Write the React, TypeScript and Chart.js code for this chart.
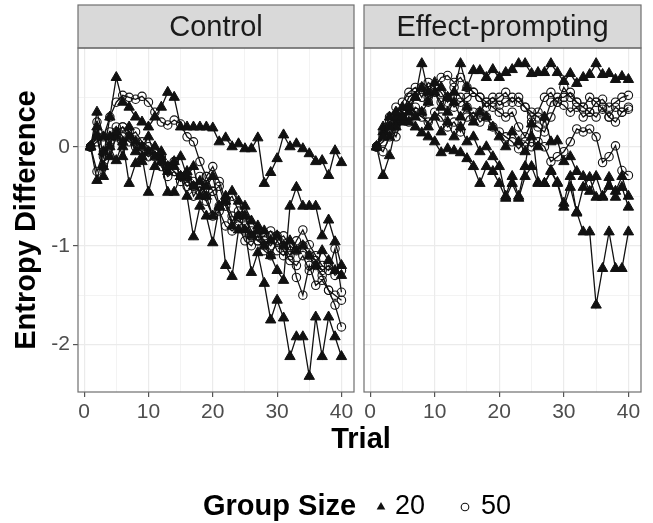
import React, { useEffect, useRef } from 'react';
import { Chart, registerables } from 'chart.js';

Chart.register(...registerables);

const FONT = "'Liberation Sans', Arial, Helvetica, sans-serif";

// ---------------- data ----------------
const panels = ['Control', 'Effect-prompting'];
const groupSizes = ['20', '50'];
const trials = [1, 2, 3, 4, 5, 6, 7, 8, 9, 10, 11, 12, 13, 14, 15, 16, 17, 18, 19, 20,
  21, 22, 23, 24, 25, 26, 27, 28, 29, 30, 31, 32, 33, 34, 35, 36, 37, 38, 39, 40];
const xTickValues = [0, 5, 10, 15, 20, 25, 30, 35, 40];
const yTickValues = [-2, -1.5, -1, -0.5, 0, 0.5];

// Control, group size 20 (triangles)
const controlG20a = [0, 0.35, 0.1, 0.3, 0.7, 0.45, 0.4, 0.3, 0.25, 0.2, 0.3, 0.4, 0.55, 0.5, 0.2, 0.2, 0.2, 0.2, 0.2, 0.19, 0.05, 0.09, 0.0, 0.03, -0.02, -0.02, 0.09, -0.37, -0.26, -0.12, 0.12, 0, 0.03, -0.02, -0.07, -0.15, -0.14, -0.29, -0.04, -0.16];
const controlG20b = [0, -0.34, -0.05, 0.0, -0.14, 0.05, -0.37, -0.17, -0.1, -0.46, -0.2, -0.15, -0.46, -0.46, -0.3, -0.5, -0.91, -0.6, -0.7, -0.97, -0.61, -1.2, -1.31, -0.84, -0.84, -1.27, -1.07, -1.38, -1.75, -1.55, -1.73, -2.12, -1.92, -1.92, -2.32, -1.72, -2.12, -1.72, -1.92, -2.12];
const controlG20c = [0, 0.1, -0.2, 0.1, 0.15, 0.0, 0.1, -0.05, 0.0, 0.1, -0.1, -0.05, -0.2, -0.15, -0.3, -0.25, -0.4, -0.35, -0.5, -0.7, -0.6, -0.55, -0.8, -0.7, -0.6, -0.75, -0.85, -1.0, -1.1, -1.25, -1.35, -0.6, -0.41, -0.6, -0.6, -0.6, -0.9, -0.74, -0.96, -1.2];
const controlG20d = [0, 0.2, -0.3, -0.1, 0.1, -0.1, 0.2, 0.05, -0.15, -0.05, 0.0, -0.1, -0.25, -0.2, -0.1, -0.3, -0.2, -0.5, -0.4, -0.3, -0.6, -0.5, -0.45, -0.55, -0.7, -0.9, -0.8, -0.85, -0.95, -0.9, -1.0, -0.95, -1.05, -1.0, -1.1, -1.2, -1.05, -1.15, -1.25, -1.3];

// Control, group size 50 (circles)
const controlG50a = [0, 0.25, -0.1, 0.3, 0.45, 0.52, 0.5, 0.48, 0.51, 0.45, 0.35, 0.25, 0.22, 0.27, 0.23, 0.1, 0.05, -0.15, -0.3, -0.45, -0.4, -0.6, -0.75, -0.7, -0.85, -0.9, -0.95, -1.0, -0.9, -1.05, -1.1, -1.0, -1.32, -1.5, -1.2, -1.4, -1.35, -1.45, -1.6, -1.82];
const controlG50b = [0, 0.1, -0.2, 0.15, 0.1, 0.2, 0.15, 0.05, 0.0, -0.05, -0.1, -0.15, -0.2, -0.25, -0.3, -0.35, -0.4, -0.3, -0.5, -0.45, -0.6, -0.55, -0.7, -0.75, -0.8, -0.9, -0.85, -0.95, -1.0, -0.9, -1.0, -1.1, -0.95, -0.84, -0.99, -1.1, -1.2, -1.25, -1.03, -1.47];
const controlG50c = [0, -0.25, -0.05, 0.05, 0.15, 0.2, 0.1, 0.15, 0.05, 0.0, -0.05, -0.2, -0.3, -0.25, -0.35, -0.3, -0.5, -0.4, -0.55, -0.7, -0.65, -0.8, -0.85, -0.8, -0.95, -1.0, -0.9, -1.05, -1.1, -0.95, -1.05, -1.15, -1.2, -1.1, -1.25, -1.2, -1.3, -1.45, -1.5, -1.55];
const controlG50d = [0, 0.05, 0.1, 0.0, 0.2, 0.1, 0.05, 0.0, -0.05, -0.1, -0.05, -0.1, -0.2, -0.15, -0.3, -0.4, -0.35, -0.45, -0.3, -0.2, -0.35, -0.55, -0.5, -0.65, -0.7, -0.85, -0.95, -0.9, -0.85, -0.95, -0.9, -1.0, -1.05, -1.0, -1.1, -1.15, -1.25, -1.2, -1.3, -1.25];

// Effect-prompting, group size 20 (triangles)
const effectG20a = [0, 0.1, 0.2, 0.35, 0.3, 0.4, 0.5, 0.84, 0.55, 0.65, 0.6, 0.5, 0.55, 0.84, 0.6, 0.77, 0.77, 0.7, 0.78, 0.7, 0.75, 0.78, 0.84, 0.84, 0.74, 0.75, 0.75, 0.84, 0.75, 0.66, 0.74, 0.64, 0.7, 0.73, 0.84, 0.73, 0.74, 0.68, 0.71, 0.68];
const effectG20b = [0, -0.29, -0.09, 0.2, 0.3, 0.25, 0.2, 0.14, 0.1, 0.05, -0.06, -0.02, -0.04, -0.06, -0.12, -0.2, -0.37, -0.2, -0.25, -0.37, -0.52, -0.37, -0.52, -0.3, -0.2, -0.37, -0.37, -0.25, -0.37, -0.61, -0.41, -0.66, -0.86, -0.86, -1.6, -1.23, -0.86, -1.23, -1.23, -0.86];
const effectG20c = [0, 0.2, 0.1, 0.3, 0.25, 0.4, 0.3, 0.35, 0.2, 0.3, 0.15, 0.25, 0.1, 0.2, 0.05, 0.1, -0.05, 0.0, -0.1, -0.2, -0.5, -0.3, -0.5, -0.2, 0.23, -0.36, -0.37, -0.24, -0.36, -0.57, -0.3, -0.67, -0.41, -0.31, -0.51, -0.51, -0.31, -0.51, -0.41, -0.61];
const effectG20d = [0, 0.15, 0.3, 0.25, 0.4, 0.35, 0.5, 0.6, 0.45, 0.55, 0.4, 0.35, 0.45, 0.3, 0.4, 0.25, 0.35, 0.3, 0.2, 0.1, 0.0, 0.15, 0.05, -0.05, 0.1, 0.0, 0.3, 0.05, 0.06, -0.15, -0.1, -0.25, -0.3, -0.45, -0.3, -0.5, -0.4, -0.45, -0.3, -0.5];

// Effect-prompting, group size 50 (circles)
const effectG50a = [0, 0.1, 0.25, 0.3, 0.45, 0.55, 0.6, 0.5, 0.65, 0.6, 0.7, 0.72, 0.65, 0.7, 0.6, 0.55, 0.5, 0.45, 0.5, 0.42, 0.45, 0.5, 0.45, 0.4, 0.35, 0.3, 0.25, 0.45, 0.5, 0.5, 0.55, 0.45, 0.4, 0.5, 0.45, 0.48, 0.4, 0.45, 0.5, 0.52];
const effectG50b = [0, -0.05, 0.1, 0.2, 0.3, 0.25, 0.4, 0.35, 0.45, 0.6, 0.55, 0.45, 0.6, 0.5, 0.4, 0.3, 0.35, 0.45, 0.4, 0.35, 0.3, 0.35, 0.2, 0.1, 0.25, 0.2, 0.15, 0.3, 0.45, 0.42, 0.35, 0.4, 0.3, 0.35, 0.3, 0.4, 0.3, 0.25, 0.35, 0.4];
const effectG50c = [0, 0.05, 0.2, 0.1, 0.3, 0.4, 0.35, 0.3, 0.25, 0.35, 0.3, 0.2, 0.25, 0.15, 0.3, 0.35, 0.25, 0.3, 0.2, 0.15, 0.1, 0.05, -0.02, 0.05, 0.0, 0.05, 0.0, -0.15, -0.1, -0.05, 0.05, 0.18, 0.15, 0.18, 0.1, -0.16, -0.1, 0.01, -0.24, -0.29];
const effectG50d = [0, 0.15, 0.3, 0.4, 0.35, 0.5, 0.55, 0.6, 0.5, 0.55, 0.45, 0.5, 0.4, 0.45, 0.5, 0.55, 0.5, 0.4, 0.45, 0.5, 0.55, 0.45, 0.5, 0.4, 0.3, 0.35, 0.5, 0.55, 0.45, 0.6, 0.5, 0.45, 0.4, 0.35, 0.45, 0.38, 0.3, 0.4, 0.35, 0.38];

const panelSeries20 = [
  [controlG20a, controlG20b, controlG20c, controlG20d],
  [effectG20a, effectG20b, effectG20c, effectG20d],
];
const panelSeries50 = [
  [controlG50a, controlG50b, controlG50c, controlG50d],
  [effectG50a, effectG50b, effectG50c, effectG50d],
];

// ---------------- layout / style ----------------
const W = 653;
const H = 523;
const PANEL_TOP = 48;
const STRIP_TOP = 5;
const PANEL_BOTTOM = 392;
const PANEL_X = [[78, 354], [364, 641]];
const LINE_COLOR = '#111111';

function buildDatasets(pi: number) {
  const ds: any[] = [];
  panelSeries20[pi].forEach((s) => {
    ds.push({
      data: s.map((v, i) => ({ x: trials[i], y: v })),
      borderColor: LINE_COLOR,
      backgroundColor: LINE_COLOR,
      borderWidth: 1.3,
      pointStyle: 'triangle',
      pointRadius: 6,
      pointBackgroundColor: LINE_COLOR,
      pointBorderColor: LINE_COLOR,
      pointBorderWidth: 1,
      tension: 0,
    });
  });
  panelSeries50[pi].forEach((s) => {
    ds.push({
      data: s.map((v, i) => ({ x: trials[i], y: v })),
      borderColor: LINE_COLOR,
      backgroundColor: 'rgba(0,0,0,0)',
      borderWidth: 1.3,
      pointStyle: 'circle',
      pointRadius: 4.2,
      pointBackgroundColor: 'rgba(0,0,0,0)',
      pointBorderColor: LINE_COLOR,
      pointBorderWidth: 1.1,
      tension: 0,
    });
  });
  return ds;
}

const panelDecor = {
  id: 'panelDecor',
  afterDraw(chart: any, _args: any, opts: any) {
    const { ctx, chartArea } = chart;
    const { left, right, top, bottom } = chartArea;
    ctx.save();
    // strip
    ctx.fillStyle = '#d9d9d9';
    ctx.fillRect(left, STRIP_TOP, right - left, top - STRIP_TOP);
    ctx.strokeStyle = '#6f6f6f';
    ctx.lineWidth = 1.2;
    ctx.strokeRect(left, STRIP_TOP, right - left, top - STRIP_TOP);
    ctx.fillStyle = '#1a1a1a';
    ctx.font = `29px ${FONT}`;
    ctx.textAlign = 'center';
    ctx.textBaseline = 'middle';
    ctx.fillText(opts.label, (left + right) / 2, (STRIP_TOP + top) / 2 + 1);
    // panel border
    ctx.strokeRect(left, top, right - left, bottom - top);

    if (opts.drawShared) {
      // x axis title
      ctx.fillStyle = '#000';
      ctx.font = `bold 29px ${FONT}`;
      ctx.textAlign = 'center';
      ctx.fillText('Trial', 361, 440);
      // legend
      const ly = 507;
      ctx.textAlign = 'left';
      ctx.fillText('Group Size', 203, ly);
      // triangle key
      const tx = 381;
      const r = 5;
      ctx.beginPath();
      ctx.moveTo(tx, ly - r);
      ctx.lineTo(tx + r * 0.866, ly + r * 0.5);
      ctx.lineTo(tx - r * 0.866, ly + r * 0.5);
      ctx.closePath();
      ctx.fillStyle = '#111';
      ctx.fill();
      ctx.font = `27px ${FONT}`;
      ctx.fillStyle = '#000';
      ctx.fillText(groupSizes[0], 395, ly);
      // circle key
      ctx.beginPath();
      ctx.arc(465, ly, 3.8, 0, Math.PI * 2);
      ctx.strokeStyle = '#111';
      ctx.lineWidth = 1.1;
      ctx.stroke();
      ctx.fillText(groupSizes[1], 481, ly);
    }
    ctx.restore();
  },
};

function makeConfig(pi: number): any {
  const isLeft = pi === 0;
  return {
    type: 'line',
    data: { datasets: buildDatasets(pi) },
    plugins: [panelDecor],
    options: {
      animation: false,
      responsive: false,
      maintainAspectRatio: false,
      events: [],
      layout: {
        padding: {
          left: isLeft ? 0 : PANEL_X[1][0],
          right: W - PANEL_X[pi][1],
          top: PANEL_TOP,
          bottom: 0,
        },
      },
      plugins: {
        legend: { display: false },
        tooltip: { enabled: false },
        panelDecor: { label: panels[pi], drawShared: isLeft },
      },
      scales: {
        x: {
          type: 'linear',
          min: -0.95,
          max: 41.95,
          afterBuildTicks: (ax: any) => {
            ax.ticks = xTickValues.map((v) => ({ value: v }));
          },
          afterFit: (ax: any) => {
            ax.height = H - PANEL_BOTTOM;
          },
          border: { display: false },
          grid: {
            color: '#ebebeb',
            lineWidth: (c: any) => (c.tick && c.tick.value % 10 === 0 ? 1.2 : 0.6),
            tickColor: (c: any) => (c.tick && c.tick.value % 10 === 0 ? '#555555' : 'rgba(0,0,0,0)'),
            tickLength: 5,
            tickWidth: 1.2,
          },
          ticks: {
            autoSkip: false,
            maxRotation: 0,
            padding: 3,
            color: '#4d4d4d',
            font: { family: FONT, size: 21 },
            callback: (v: any) => (v % 10 === 0 ? String(v) : ''),
          },
        },
        y: {
          type: 'linear',
          min: -2.478,
          max: 0.998,
          afterBuildTicks: (ax: any) => {
            ax.ticks = yTickValues.map((v) => ({ value: v }));
          },
          afterFit: (ax: any) => {
            ax.width = isLeft ? PANEL_X[0][0] : 0;
          },
          border: { display: false },
          title: isLeft
            ? {
                display: true,
                text: 'Entropy Difference',
                color: '#000',
                font: { family: FONT, size: 29, weight: 'bold' },
                padding: { top: 10, bottom: 0 },
              }
            : { display: false },
          grid: {
            color: '#ebebeb',
            lineWidth: (c: any) => (c.tick && Number.isInteger(c.tick.value) ? 1.2 : 0.6),
            tickColor: (c: any) => (c.tick && Number.isInteger(c.tick.value) ? '#555555' : 'rgba(0,0,0,0)'),
            drawTicks: isLeft,
            tickLength: 5,
            tickWidth: 1.2,
          },
          ticks: {
            display: isLeft,
            padding: 3,
            color: '#4d4d4d',
            font: { family: FONT, size: 21 },
            callback: (v: any) => (Number.isInteger(v) ? String(v) : ''),
          },
        },
      },
    },
  };
}

export default function App() {
  const leftRef = useRef<HTMLCanvasElement | null>(null);
  const rightRef = useRef<HTMLCanvasElement | null>(null);

  useEffect(() => {
    Chart.defaults.font.family = FONT;
    const charts: Chart[] = [];
    if (leftRef.current) charts.push(new Chart(leftRef.current, makeConfig(0)));
    if (rightRef.current) charts.push(new Chart(rightRef.current, makeConfig(1)));
    return () => {
      charts.forEach((c) => c.destroy());
    };
  }, []);

  const canvasStyle: React.CSSProperties = {
    position: 'absolute',
    left: 0,
    top: 0,
    width: W,
    height: H,
  };

  return (
    <div style={{ position: 'absolute', left: 0, top: 0, width: W, height: H, background: '#fff' }}>
      <canvas ref={leftRef} width={W} height={H} style={canvasStyle} />
      <canvas ref={rightRef} width={W} height={H} style={canvasStyle} />
    </div>
  );
}
